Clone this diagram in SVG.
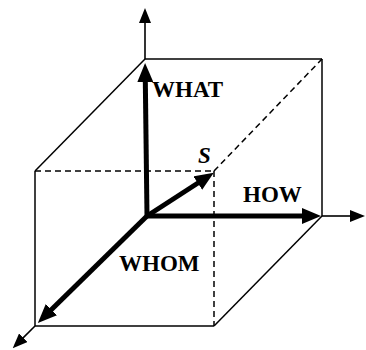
<svg xmlns="http://www.w3.org/2000/svg" width="366" height="350" viewBox="0 0 366 350">
<style>
.edge{stroke:#000;stroke-width:1.5;fill:none}
.dash{stroke:#000;stroke-width:1.5;fill:none;stroke-dasharray:6,4}
.thin{stroke:#000;stroke-width:1.6;fill:none}
.thick{stroke:#000;stroke-width:5;fill:none}
.lbl{font-family:"Liberation Serif","Times New Roman",serif;font-weight:bold;font-size:23px;fill:#000}
</style>
<defs>
<marker id="ah" markerUnits="userSpaceOnUse" markerWidth="15" markerHeight="12" refX="1" refY="6" orient="auto">
<path d="M0,0 L15,6 L0,12 z" fill="#000"/>
</marker>
<marker id="ahb" markerUnits="userSpaceOnUse" markerWidth="19" markerHeight="16" refX="2" refY="8" orient="auto">
<path d="M0,0 L19,8 L0,16 z" fill="#000"/>
</marker>
</defs>
<g id="cube">
<line class="edge" x1="145" y1="59" x2="322" y2="59"/>
<line class="edge" x1="322" y1="59" x2="322" y2="216"/>
<line class="edge" x1="145" y1="59" x2="35" y2="171"/>
<line class="edge" x1="35" y1="171" x2="35" y2="326"/>
<line class="edge" x1="35" y1="326" x2="214" y2="326"/>
<line class="edge" x1="214" y1="326" x2="322" y2="216"/>
<line class="dash" x1="35" y1="171" x2="214" y2="171"/>
<line class="dash" x1="214" y1="171" x2="214" y2="326"/>
<line class="dash" x1="214" y1="171" x2="322" y2="59"/>
</g>
<g id="connectors">
<line class="thin" x1="145" y1="59" x2="145" y2="22" marker-end="url(#ah)"/>
<line class="thin" x1="322" y1="216" x2="351" y2="216" marker-end="url(#ah)"/>
<line class="thin" x1="35" y1="326" x2="22.6" y2="338.4" marker-end="url(#ah)"/>
<line class="thick" x1="147" y1="216" x2="145.3" y2="80" marker-end="url(#ahb)"/>
<line class="thick" x1="147" y1="216" x2="304" y2="216" marker-end="url(#ahb)"/>
<line class="thick" x1="147" y1="216" x2="50" y2="311" marker-end="url(#ahb)"/>
<line class="thick" x1="147" y1="216" x2="199.5" y2="182" marker-end="url(#ahb)"/>
</g>
<g id="what"><text class="lbl" x="152" y="97">WHAT</text></g>
<g id="how"><text class="lbl" x="243" y="202">HOW</text></g>
<g id="whom"><text class="lbl" x="119" y="271">WHOM</text></g>
<g id="s"><text class="lbl" x="198" y="163" font-style="italic">S</text></g>
</svg>
